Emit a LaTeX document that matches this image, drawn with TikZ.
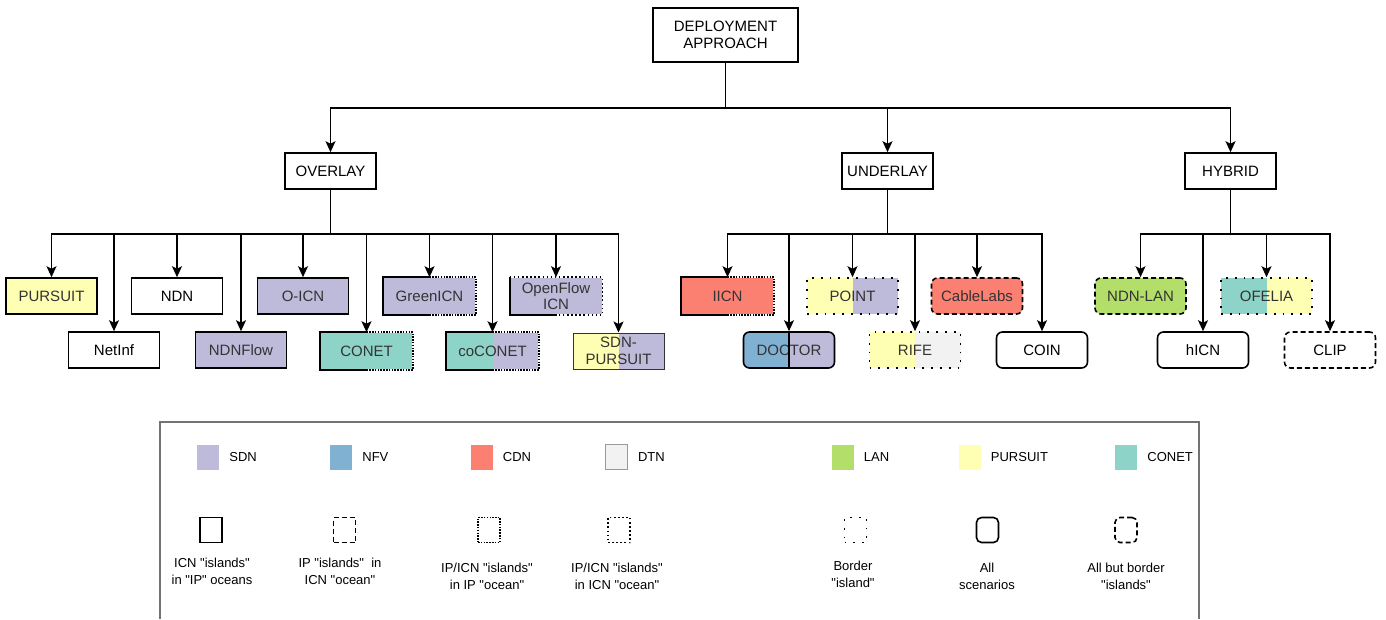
\documentclass[tikz,border=0pt]{standalone}
\usepackage{fontspec}
\setmainfont{Liberation Sans}
\usetikzlibrary{positioning,arrows.meta}
\definecolor{sdn}{HTML}{BEBADA}
\definecolor{nfv}{HTML}{80B1D3}
\definecolor{cdn}{HTML}{FB8072}
\definecolor{dtn}{HTML}{F2F2F2}
\definecolor{lan}{HTML}{B3DE69}
\definecolor{pur}{HTML}{FFFFB3}
\definecolor{con}{HTML}{8DD3C7}
\newcommand{\qt}[1]{\textquotedbl#1\textquotedbl}
\tikzset{
  box/.style={draw, line width=1.6pt, minimum width=91pt, minimum height=36pt, inner sep=1pt,
    align=center, font=\fontsize{15}{16.5}\selectfont},
  halfbox/.style={box, draw=none},
  rbox/.style={box, rounded corners=6pt},
  tint/.style={fill=#1, text=black!80},
  lefthalf/.style={path picture={\fill[#1] (path picture bounding box.south west) rectangle (path picture bounding box.north);}},
  densedot/.style={dash pattern=on 1.5pt off 1.3pt},
  dotline/.style={dash pattern=on 1.5pt off 2.6pt},
  sparsedot/.style={dash pattern=on 1.8pt off 7pt},
  dashline/.style={dash pattern=on 5pt off 3pt},
  arr/.style={-{Stealth[length=11pt,width=10pt,inset=2.5pt]}, line width=1.6pt},
  keysq/.style={minimum width=22pt, minimum height=25pt, inner sep=0pt},
  keybox/.style={keysq, draw, line width=1.6pt},
  keytxt/.style={inner sep=0pt, align=center, font=\fontsize{13}{17}\selectfont}
}
\begin{document}
\begin{tikzpicture}[x=1pt,y=-1pt]
  \useasboundingbox (0,0) rectangle (1386,619);
  % top levels
  \node[box, minimum width=145pt, minimum height=54pt] (deploy) at (725.5,35) {DEPLOYMENT\\APPROACH};
  \node[box] (overlay) at (330.5,171) {OVERLAY};
  \node[box] (underlay) at (887.5,171) {UNDERLAY};
  \node[box] (hybrid) at (1230.5,171) {HYBRID};

  % overlay
  \node[box, tint=pur] (pursuit) at (51.5,296) {PURSUIT};
  \node[box] (netinf) at (114,350) {NetInf};
  \node[box] (ndn) at (177,296) {NDN};
  \node[box, tint=sdn] (ndnflow) at (241,350) {NDNFlow};
  \node[box, tint=sdn] (oicn) at (303,296) {O-ICN};
  \node[halfbox, tint=con] (conet) at (366.5,351) {CONET};
  \node[halfbox, tint=sdn] (greenicn) at (429.5,296) {GreenICN};
  \node[halfbox, tint=sdn, lefthalf=con] (coconet) at (492.5,351) {coCONET};
  \node[halfbox, tint=sdn] (openflow) at (556,296) {OpenFlow\\ICN};
  \node[box, line width=1pt, draw=black!80, tint=sdn, lefthalf=pur] (sdnpursuit) at (618.5,351) {SDN-\\PURSUIT};

  % underlay
  \node[halfbox, tint=cdn] (iicn) at (727.5,296) {IICN};
  \node[rbox, tint=sdn, lefthalf=nfv] (doctor) at (789,350) {DOCTOR};
  \draw[line width=1.6pt] (doctor.north) -- (doctor.south);
  \node[box, sparsedot, tint=sdn, lefthalf=pur] (point) at (852.5,296) {POINT};
  \node[box, sparsedot, tint=dtn, lefthalf=pur] (rife) at (915,350) {RIFE};
  \node[rbox, dashline, tint=cdn] (cablelabs) at (977,296) {CableLabs};
  \node[rbox] (coin) at (1042,350) {COIN};

  % hybrid
  \node[rbox, dashline, tint=lan] (ndnlan) at (1140.5,296) {NDN-LAN};
  \node[rbox] (hicn) at (1203,350) {hICN};
  \node[box, sparsedot, tint=pur, lefthalf=con] (ofelia) at (1266.5,296) {OFELIA};
  \node[rbox, dashline] (clip) at (1330,350) {CLIP};

  % half solid / half dotted borders
  \foreach \n in {conet,greenicn,coconet,iicn}
  {
    \draw[line width=1.6pt] (\n.north) -| (\n.south west) -- (\n.south);
    \draw[line width=1.6pt, densedot] (\n.north) -| (\n.south east) -- (\n.south);
  }
  \draw[line width=1.6pt] (openflow.north west) -- (openflow.south west) -- (openflow.south);
  \draw[line width=1.6pt, dotline] (openflow.north west) -| (openflow.south east) -- (openflow.south);

  % connectors
  \foreach \c in {overlay,underlay,hybrid}
    \draw[arr] (deploy.south) -- ++(0,45) -| (\c.north);
  \foreach \c in {pursuit,netinf,ndn,ndnflow,oicn,conet,greenicn,coconet,openflow,sdnpursuit}
    \draw[arr] (overlay.south) -- ++(0,44) -| (\c.north);
  \foreach \c in {iicn,doctor,point,rife,cablelabs,coin}
    \draw[arr] (underlay.south) -- ++(0,44) -| (\c.north);
  \foreach \c in {ndnlan,hicn,ofelia,clip}
    \draw[arr] (hybrid.south) -- ++(0,44) -| (\c.north);

  % legend
  \draw[black!55, line width=1.2pt] (160,619) -- (160,422) -- (1199,422) -- (1199,619);
  \foreach \x/\c/\t in {208/sdn/SDN, 341/nfv/NFV, 481.5/cdn/CDN, 842.5/lan/LAN, 969.5/pur/PURSUIT, 1126/con/CONET}
  {
    \node[keysq, fill=\c] (key\t) at (\x,457) {};
    \node[keytxt, right=10pt of key\t] (lbl\t) {\t};
  }
  \node[keysq, fill=dtn, draw=black!40, line width=0.8pt] (keyDTN) at (616.5,457) {};
  \node[keytxt, right=10pt of keyDTN] (lblDTN) {DTN};

  \node[keybox] (kicn) at (211,530) {};
  \node[keybox, dashline] (kip) at (344.5,530) {};
  \node[keybox, densedot] (kipicn) at (489,530) {};
  \node[keybox, dotline] (kicnocean) at (619,530) {};
  \node[keybox, sparsedot] (kborder) at (855.5,530) {};
  \node[keybox, rounded corners=5pt] (kall) at (987.5,530) {};
  \node[keybox, dashline, rounded corners=5pt] (kallbut) at (1126,530) {};

  \node[keytxt] (ticn) at (212,571) {ICN \qt{islands}\\in \qt{IP} oceans};
  \node[keytxt] (tip) at (340,571) {IP \qt{islands}\ \ in\\ICN \qt{ocean}};
  \node[keytxt] (tipicn) at (487,576) {IP/ICN \qt{islands}\\in IP \qt{ocean}};
  \node[keytxt] (ticnocean) at (617,576) {IP/ICN \qt{islands}\\in ICN \qt{ocean}};
  \node[keytxt] (tborder) at (853,574) {Border\\\qt{island}};
  \node[keytxt] (tall) at (987,576.5) {All\\scenarios};
  \node[keytxt] (tallbut) at (1126,576.5) {All but border\\\qt{islands}};
\end{tikzpicture}
\end{document}
